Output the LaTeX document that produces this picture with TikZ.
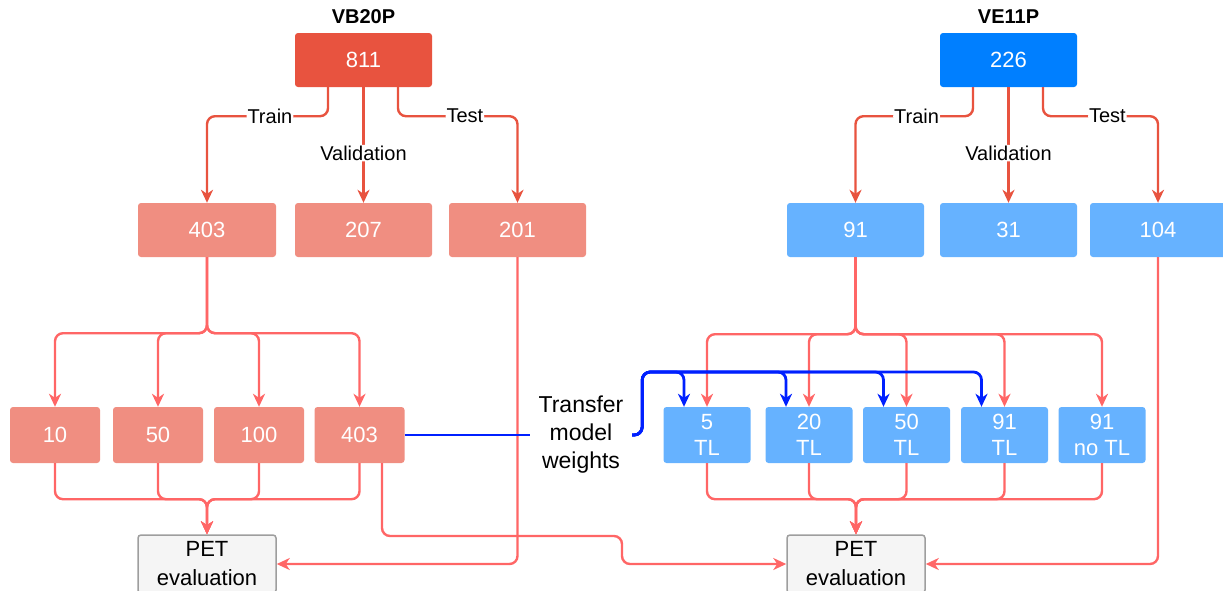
\documentclass[tikz,border=0pt]{standalone}
\usepackage{fontspec}
\setmainfont{Liberation Sans}
\usetikzlibrary{arrows.meta}
\definecolor{topred}{HTML}{E8533F}
\definecolor{lowred}{HTML}{FF6666}
\definecolor{boxA}{HTML}{E8533F}
\definecolor{boxB}{HTML}{F08E81}
\definecolor{blueA}{HTML}{007FFF}
\definecolor{blueB}{HTML}{66B2FF}
\definecolor{tlblue}{HTML}{0020FF}
\definecolor{petfill}{HTML}{F5F5F5}
\definecolor{petdraw}{HTML}{9E9E9E}
\begin{document}
\begin{tikzpicture}[x=1pt,y=-1pt,
  bx/.style={rectangle,rounded corners=3pt,text=white,inner sep=0pt,align=center,
    font=\fontsize{22}{26}\selectfont},
  bigbox/.style={bx,minimum width=137pt,minimum height=54pt},
  smallbox/.style={bx,minimum width=90pt,minimum height=56pt},
  tlbox/.style={bx,minimum width=87pt,minimum height=56pt},
  title/.style={font=\bfseries\fontsize{20}{24}\selectfont},
  petbox/.style={rectangle,rounded corners=3pt,fill=petfill,draw=petdraw,line width=1.5pt,
    minimum width=138pt,minimum height=58pt,inner sep=0pt,align=center,
    font=\fontsize{22}{29}\selectfont},
  lbl/.style={fill=white,inner sep=1pt,text=black,font=\fontsize{20}{24}\selectfont},
  tip/.style={-{Stealth[length=13pt,width=12pt,inset=4pt]}},
  topar/.style={tip,draw=topred,line width=2.4pt,rounded corners=8pt},
  lowar/.style={tip,draw=lowred,line width=2.4pt,rounded corners=8pt},
  tlar/.style={tip,draw=tlblue,line width=2.8pt,rounded corners=8pt},
  tlln/.style={draw=tlblue,line width=2.8pt,rounded corners=8pt},
]
\useasboundingbox (0,0) rectangle (1223,590);

% titles
\node[title] (vb) at (363.5,17) {VB20P};
\node[title] (ve) at (1008.5,17) {VE11P};

% top boxes
\node[bigbox,fill=boxA] (t811) at (363.5,60) {811};
\node[bigbox,fill=blueA] (t226) at (1008.5,60) {226};

% second row
\node[bigbox,fill=boxB,minimum width=138pt] (b403) at (207,230) {403};
\node[bigbox,fill=boxB] (b207) at (363.5,230) {207};
\node[bigbox,fill=boxB] (b201) at (517.5,230) {201};
\node[bigbox,fill=blueB] (b91) at (855.5,230) {91};
\node[bigbox,fill=blueB] (b31) at (1008.5,230) {31};
\node[bigbox,fill=blueB,minimum width=136pt] (b104) at (1158,230) {104};

% third row left
\node[smallbox,fill=boxB] (c10) at (55,435) {10};
\node[smallbox,fill=boxB] (c50) at (158,435) {50};
\node[smallbox,fill=boxB] (c100) at (259,435) {100};
\node[smallbox,fill=boxB] (c403) at (359.5,435) {403};

% third row right
\node[tlbox,fill=blueB] (d5) at (707,435) {5\\TL};
\node[tlbox,fill=blueB] (d20) at (809,435) {20\\TL};
\node[tlbox,fill=blueB] (d50) at (906.5,435) {50\\TL};
\node[tlbox,fill=blueB] (d91) at (1004.5,435) {91\\TL};
\node[tlbox,fill=blueB] (dno) at (1102,435) {91\\no TL};

% PET boxes
\node[petbox] (pet1) at (207,564) {PET\\evaluation};
\node[petbox] (pet2) at (856,564) {PET\\evaluation};

% transfer label
\node[align=center,inner xsep=8pt,inner ysep=0pt,font=\fontsize{23}{28}\selectfont,minimum width=102pt] (tw) at (581,435) {Transfer\\model\\weights};

% top splits left
\draw[topar] ([xshift=-35.5pt]t811.south) -- ++(0,29) -| node[lbl,pos=0.24] {Train} (b403.north);
\draw[topar] (t811.south) -- node[lbl,pos=0.57] {Validation} (b207.north);
\draw[topar] ([xshift=34.5pt]t811.south) -- ++(0,29) -| node[lbl,pos=0.28] {Test} (b201.north);

% top splits right
\draw[topar] ([xshift=-35.5pt]t226.south) -- ++(0,29) -| node[lbl,pos=0.24] {Train} (b91.north);
\draw[topar] (t226.south) -- node[lbl,pos=0.57] {Validation} (b31.north);
\draw[topar] ([xshift=34.5pt]t226.south) -- ++(0,29) -| node[lbl,pos=0.28] {Test} (b104.north);

% left fan-out
\foreach \n in {c10,c50,c100,c403}
  \draw[lowar] (b403.south) -- ++(0,76) -| (\n.north);
% right fan-out
\foreach \n in {d5,d20,d50,d91,dno}
  \draw[lowar] (b91.south) -- ++(0,77) -| (\n.north);

% left fan-in
\foreach \n in {c10,c50,c100,c403}
  \draw[lowar] (\n.south) -- ++(0,36) -| (pet1.north);
% right fan-in
\foreach \n in {d5,d20,d50,d91,dno}
  \draw[lowar] (\n.south) -- ++(0,36) -| (pet2.north);

% test sets to PET
\draw[lowar] (b201.south) |- (pet1.east);
\draw[lowar] (b104.south) |- (pet2.east);
\draw[lowar] ([xshift=22.5pt]c403.south) |- (622,536) |- (pet2.west);

% transfer of weights
\draw[tlln] (c403.east) -- (c403.east -| tw.west);
\foreach \n in {d5,d20,d50,d91}
  \draw[tlar] (c403.east -| tw.east) -- ++(10,0) -- ++(0,-63) -| ([xshift=-23pt]\n.north);
\end{tikzpicture}
\end{document}
